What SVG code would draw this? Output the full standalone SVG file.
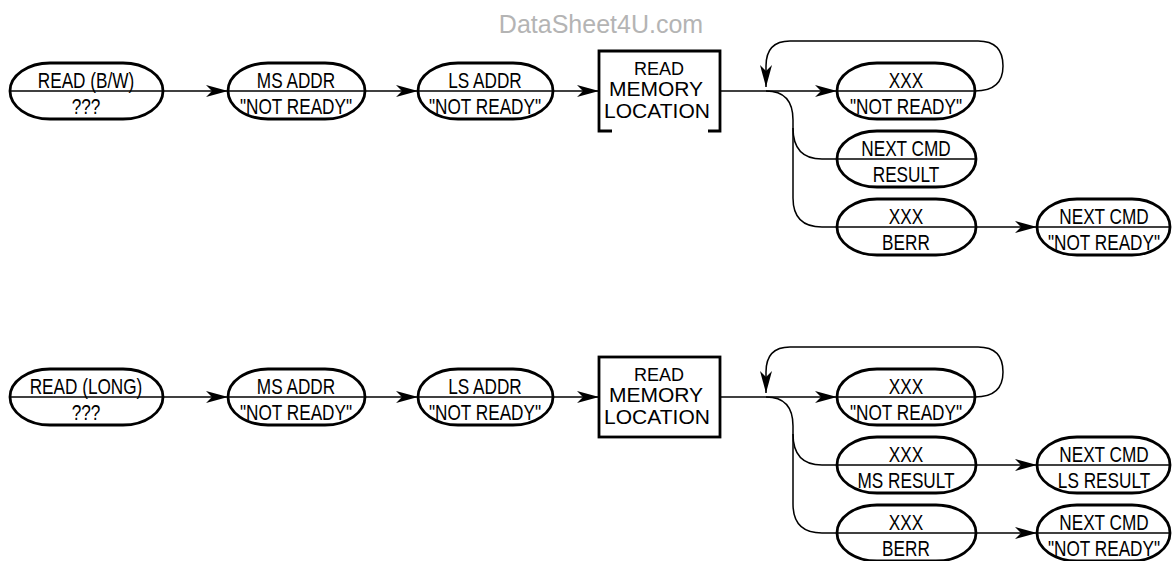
<svg xmlns="http://www.w3.org/2000/svg" width="1172" height="561" viewBox="0 0 1172 561">
<style>
.n{fill:#fff;stroke:#000;stroke-width:2.8}
.m{stroke:#000;stroke-width:1.5}
.t{font-family:"Liberation Sans",Arial,sans-serif;font-size:21.5px;fill:#000;text-anchor:middle}
.r{font-family:"Liberation Sans",Arial,sans-serif;font-size:21px;fill:#000;text-anchor:middle}
.b{fill:none;stroke:#000;stroke-width:2.8}
.c{fill:none;stroke:#000;stroke-width:1.5}
.wm{font-family:"Liberation Sans",Arial,sans-serif;font-size:25px;fill:#b4b4b4;text-anchor:middle}
</style>
<defs>
<marker id="ah" markerWidth="24" markerHeight="12" refX="22" refY="6" orient="auto" markerUnits="userSpaceOnUse">
<path d="M0,0 L22,6 L0,12 L6,6 z" fill="#000"/>
</marker>
</defs>
<text class="wm" x="601" y="33">DataSheet4U.com</text>

<g id="connectors">
<line class="c" x1="163" y1="91" x2="228" y2="91" marker-end="url(#ah)"/>
<line class="c" x1="365" y1="91" x2="418" y2="91" marker-end="url(#ah)"/>
<line class="c" x1="553" y1="91" x2="599" y2="91" marker-end="url(#ah)"/>
<line class="c" x1="721" y1="91" x2="837" y2="91" marker-end="url(#ah)"/>
<path class="c" d="M975,91 Q1003,91 1003,66 Q1003,41 978,41 H790 Q766,41 766,66 V87" marker-end="url(#ah)"/>
<path class="c" d="M766,91 Q793,91 793,120 V198 Q793,227 822,227 H837"/>
<path class="c" d="M793,128 Q793,159 822,159 H837"/>
<line class="c" x1="976" y1="227" x2="1037" y2="227" marker-end="url(#ah)"/>

<line class="c" x1="163" y1="397" x2="228" y2="397" marker-end="url(#ah)"/>
<line class="c" x1="365" y1="397" x2="418" y2="397" marker-end="url(#ah)"/>
<line class="c" x1="553" y1="397" x2="599" y2="397" marker-end="url(#ah)"/>
<line class="c" x1="721" y1="397" x2="837" y2="397" marker-end="url(#ah)"/>
<path class="c" d="M975,397 Q1003,397 1003,372 Q1003,347 978,347 H790 Q766,347 766,372 V393" marker-end="url(#ah)"/>
<path class="c" d="M766,397 Q793,397 793,426 V504 Q793,533 822,533 H837"/>
<path class="c" d="M793,434 Q793,465 822,465 H837"/>
<line class="c" x1="976" y1="465" x2="1037" y2="465" marker-end="url(#ah)"/>
<line class="c" x1="976" y1="533" x2="1037" y2="533" marker-end="url(#ah)"/>
</g>

<g id="n1"><path class="n" d="M50,63 H123 A40,28 0 0 1 123,119 H50 A40,28 0 0 1 50,63 Z"/><line class="m" x1="10" y1="91" x2="163" y2="91"/><text class="t" transform="translate(86,88) scale(0.8,1)">READ (B/W)</text><text class="t" transform="translate(86,114) scale(0.8,1)">???</text></g>
<g id="n2"><path class="n" d="M268,63 H325 A40,28 0 0 1 325,119 H268 A40,28 0 0 1 268,63 Z"/><line class="m" x1="228" y1="91" x2="365" y2="91"/><text class="t" transform="translate(296,88) scale(0.8,1)">MS ADDR</text><text class="t" transform="translate(296,114) scale(0.8,1)">"NOT READY"</text></g>
<g id="n3"><path class="n" d="M458,63 H513 A40,28 0 0 1 513,119 H458 A40,28 0 0 1 458,63 Z"/><line class="m" x1="418" y1="91" x2="553" y2="91"/><text class="t" transform="translate(485,88) scale(0.8,1)">LS ADDR</text><text class="t" transform="translate(485,114) scale(0.8,1)">"NOT READY"</text></g>
<g id="box1"><path class="b" d="M612,131 H599 V51 H720 V131 H708"/><text class="r" x="659" y="75" style="font-size:18px">READ</text><text class="r" x="656" y="96">MEMORY</text><text class="r" x="657" y="118">LOCATION</text></g>
<g id="n4"><path class="n" d="M877,63 H935 A40,28 0 0 1 935,119 H877 A40,28 0 0 1 877,63 Z"/><line class="m" x1="837" y1="91" x2="975" y2="91"/><text class="t" transform="translate(906,88) scale(0.8,1)">XXX</text><text class="t" transform="translate(906,114) scale(0.8,1)">"NOT READY"</text></g>
<g id="n5"><path class="n" d="M877,131 H936 A40,28 0 0 1 936,187 H877 A40,28 0 0 1 877,131 Z"/><line class="m" x1="837" y1="159" x2="976" y2="159"/><text class="t" transform="translate(906,156) scale(0.8,1)">NEXT CMD</text><text class="t" transform="translate(906,182) scale(0.8,1)">RESULT</text></g>
<g id="n6"><path class="n" d="M877,199 H936 A40,28 0 0 1 936,255 H877 A40,28 0 0 1 877,199 Z"/><line class="m" x1="837" y1="227" x2="976" y2="227"/><text class="t" transform="translate(906,224) scale(0.8,1)">XXX</text><text class="t" transform="translate(906,250) scale(0.8,1)">BERR</text></g>
<g id="n7"><path class="n" d="M1077,199 H1132 A38,28 0 0 1 1132,255 H1077 A40,28 0 0 1 1077,199 Z"/><line class="m" x1="1037" y1="227" x2="1170" y2="227"/><text class="t" transform="translate(1104,224) scale(0.8,1)">NEXT CMD</text><text class="t" transform="translate(1104,250) scale(0.8,1)">"NOT READY"</text></g>

<g id="n8"><path class="n" d="M50,369 H123 A40,28 0 0 1 123,425 H50 A40,28 0 0 1 50,369 Z"/><line class="m" x1="10" y1="397" x2="163" y2="397"/><text class="t" transform="translate(86,394) scale(0.8,1)">READ (LONG)</text><text class="t" transform="translate(86,420) scale(0.8,1)">???</text></g>
<g id="n9"><path class="n" d="M268,369 H325 A40,28 0 0 1 325,425 H268 A40,28 0 0 1 268,369 Z"/><line class="m" x1="228" y1="397" x2="365" y2="397"/><text class="t" transform="translate(296,394) scale(0.8,1)">MS ADDR</text><text class="t" transform="translate(296,420) scale(0.8,1)">"NOT READY"</text></g>
<g id="n10"><path class="n" d="M458,369 H513 A40,28 0 0 1 513,425 H458 A40,28 0 0 1 458,369 Z"/><line class="m" x1="418" y1="397" x2="553" y2="397"/><text class="t" transform="translate(485,394) scale(0.8,1)">LS ADDR</text><text class="t" transform="translate(485,420) scale(0.8,1)">"NOT READY"</text></g>
<g id="box2"><rect class="b" x="599" y="357" width="121" height="80"/><text class="r" x="659" y="381" style="font-size:18px">READ</text><text class="r" x="656" y="402">MEMORY</text><text class="r" x="657" y="424">LOCATION</text></g>
<g id="n11"><path class="n" d="M877,369 H935 A40,28 0 0 1 935,425 H877 A40,28 0 0 1 877,369 Z"/><line class="m" x1="837" y1="397" x2="975" y2="397"/><text class="t" transform="translate(906,394) scale(0.8,1)">XXX</text><text class="t" transform="translate(906,420) scale(0.8,1)">"NOT READY"</text></g>
<g id="n12"><path class="n" d="M877,437 H936 A40,28 0 0 1 936,493 H877 A40,28 0 0 1 877,437 Z"/><line class="m" x1="837" y1="465" x2="976" y2="465"/><text class="t" transform="translate(906,462) scale(0.8,1)">XXX</text><text class="t" transform="translate(906,488) scale(0.8,1)">MS RESULT</text></g>
<g id="n13"><path class="n" d="M1077,437 H1132 A38,28 0 0 1 1132,493 H1077 A40,28 0 0 1 1077,437 Z"/><line class="m" x1="1037" y1="465" x2="1170" y2="465"/><text class="t" transform="translate(1104,462) scale(0.8,1)">NEXT CMD</text><text class="t" transform="translate(1104,488) scale(0.8,1)">LS RESULT</text></g>
<g id="n14"><path class="n" d="M877,505 H936 A40,28 0 0 1 936,561 H877 A40,28 0 0 1 877,505 Z"/><line class="m" x1="837" y1="533" x2="976" y2="533"/><text class="t" transform="translate(906,530) scale(0.8,1)">XXX</text><text class="t" transform="translate(906,556) scale(0.8,1)">BERR</text></g>
<g id="n15"><path class="n" d="M1077,505 H1132 A38,28 0 0 1 1132,561 H1077 A40,28 0 0 1 1077,505 Z"/><line class="m" x1="1037" y1="533" x2="1170" y2="533"/><text class="t" transform="translate(1104,530) scale(0.8,1)">NEXT CMD</text><text class="t" transform="translate(1104,556) scale(0.8,1)">"NOT READY"</text></g>
</svg>
